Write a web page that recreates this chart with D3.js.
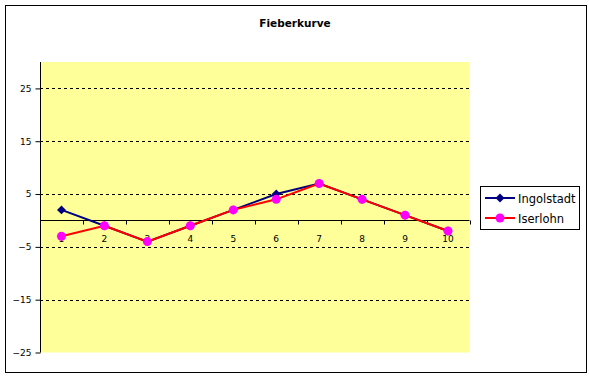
<!DOCTYPE html>
<html>
<head>
<meta charset="utf-8">
<style>
  body { margin: 0; background: #fff; }
  svg { display: block; font-family: "DejaVu Sans", sans-serif; }
</style>
</head>
<body>
<svg width="589" height="378"></svg>
<script src="https://cdn.jsdelivr.net/npm/d3@7/dist/d3.min.js"></script>
<script>

var categories = [1, 2, 3, 4, 5, 6, 7, 8, 9, 10];
var ingolstadt = [2, -1, -4, -1, 2, 5, 7, 4, 1, -2];
var iserlohn = [-3, -1, -4, -1, 2, 4, 7, 4, 1, -2];
var yTicks = [-25, -15, -5, 5, 15, 25];

var svg = d3.select("svg");

// chart frame
svg.append("rect")
    .attr("x", 5.5).attr("y", 5.5)
    .attr("width", 581).attr("height", 367)
    .attr("fill", "#fff").attr("stroke", "#000").attr("stroke-width", 1);

svg.append("text")
    .attr("x", 295).attr("y", 27)
    .attr("text-anchor", "middle")
    .attr("font-size", 10.5).attr("font-weight", "bold")
    .text("Fieberkurve");

var x = d3.scaleBand().domain(categories).range([40, 469.5]);
var y = d3.scaleLinear().domain([-25, 30]).range([352.5, 62]);

// plot area
svg.append("rect")
    .attr("x", 40).attr("y", y(30))
    .attr("width", 429.5).attr("height", y(-25) - y(30))
    .attr("fill", "#ffff99");

// dashed gridlines
svg.append("g").selectAll("line")
  .data(yTicks.filter(function(d) { return d > -25; }))
  .enter().append("line")
    .attr("x1", 40).attr("x2", 469.5)
    .attr("y1", function(d) { return Math.round(y(d)) + 0.5; })
    .attr("y2", function(d) { return Math.round(y(d)) + 0.5; })
    .attr("stroke", "#000").attr("stroke-dasharray", "3,3");

// y axis
var yAxis = svg.append("g")
    .attr("transform", "translate(40.5,0)")
    .call(d3.axisLeft(y).tickValues(yTicks).tickSize(5).tickPadding(4));
yAxis.select(".domain").attr("d", "M0," + y(30) + "V" + y(-25));
yAxis.selectAll("text").attr("font-size", 9).attr("font-family", "DejaVu Sans");

// category axis crossing at zero
var x0 = Math.round(y(0)) + 0.5;
var xAxis = svg.append("g")
    .attr("transform", "translate(0," + x0 + ")");
xAxis.append("line")
    .attr("x1", 40).attr("x2", 469.5)
    .attr("stroke", "#000");
xAxis.selectAll(".tk")
  .data(categories.concat([11]))
  .enter().append("line")
    .attr("x1", function(d) { return Math.round(40 + (d - 1) * x.step()) + 0.5; })
    .attr("x2", function(d) { return Math.round(40 + (d - 1) * x.step()) + 0.5; })
    .attr("y1", 0).attr("y2", 4)
    .attr("stroke", "#000");
xAxis.selectAll("text")
  .data(categories)
  .enter().append("text")
    .attr("x", function(d) { return x(d) + x.bandwidth() / 2; })
    .attr("y", 21)
    .attr("text-anchor", "middle")
    .attr("font-size", 9)
    .text(function(d) { return d; });

var cx = function(d, i) { return x(categories[i]) + x.bandwidth() / 2; };
var line = d3.line().x(cx).y(function(d) { return y(d); });

// Ingolstadt
svg.append("path").datum(ingolstadt)
    .attr("d", line)
    .attr("fill", "none").attr("stroke", "#000080").attr("stroke-width", 2);
svg.append("g").selectAll("path")
  .data(ingolstadt)
  .enter().append("path")
    .attr("d", d3.symbol(d3.symbolSquare, 40))
    .attr("transform", function(d, i) { return "translate(" + cx(d, i) + "," + y(d) + ") rotate(45)"; })
    .attr("fill", "#000080");

// Iserlohn
svg.append("path").datum(iserlohn)
    .attr("d", line)
    .attr("fill", "none").attr("stroke", "#ff0000").attr("stroke-width", 2);
svg.append("g").selectAll("circle")
  .data(iserlohn)
  .enter().append("circle")
    .attr("cx", cx)
    .attr("cy", function(d) { return y(d); })
    .attr("r", 4.5)
    .attr("fill", "#ff00ff");

// legend
var legend = svg.append("g");
legend.append("rect")
    .attr("x", 480.5).attr("y", 186.5)
    .attr("width", 99).attr("height", 43)
    .attr("fill", "#fff").attr("stroke", "#000");
var items = [
  {name: "Ingolstadt", line: "#000080", mark: "#000080", sym: "diamond"},
  {name: "Iserlohn", line: "#ff0000", mark: "#ff00ff", sym: "circle"}
];
var row = legend.selectAll(".row")
  .data(items)
  .enter().append("g")
    .attr("transform", function(d, i) { return "translate(0," + (198 + i * 20) + ")"; });
row.append("line")
    .attr("x1", 485).attr("x2", 515)
    .attr("stroke", function(d) { return d.line; }).attr("stroke-width", 2);
row.each(function(d) {
  var g = d3.select(this);
  if (d.sym === "diamond") {
    g.append("path")
      .attr("d", d3.symbol(d3.symbolSquare, 40))
      .attr("transform", "translate(500,0) rotate(45)")
      .attr("fill", d.mark);
  } else {
    g.append("circle").attr("cx", 500).attr("r", 4.5).attr("fill", d.mark);
  }
});
row.append("text")
    .attr("x", 518).attr("y", 4.5)
    .attr("font-size", 11.5)
    .text(function(d) { return d.name; });

</script>
</body>
</html>
